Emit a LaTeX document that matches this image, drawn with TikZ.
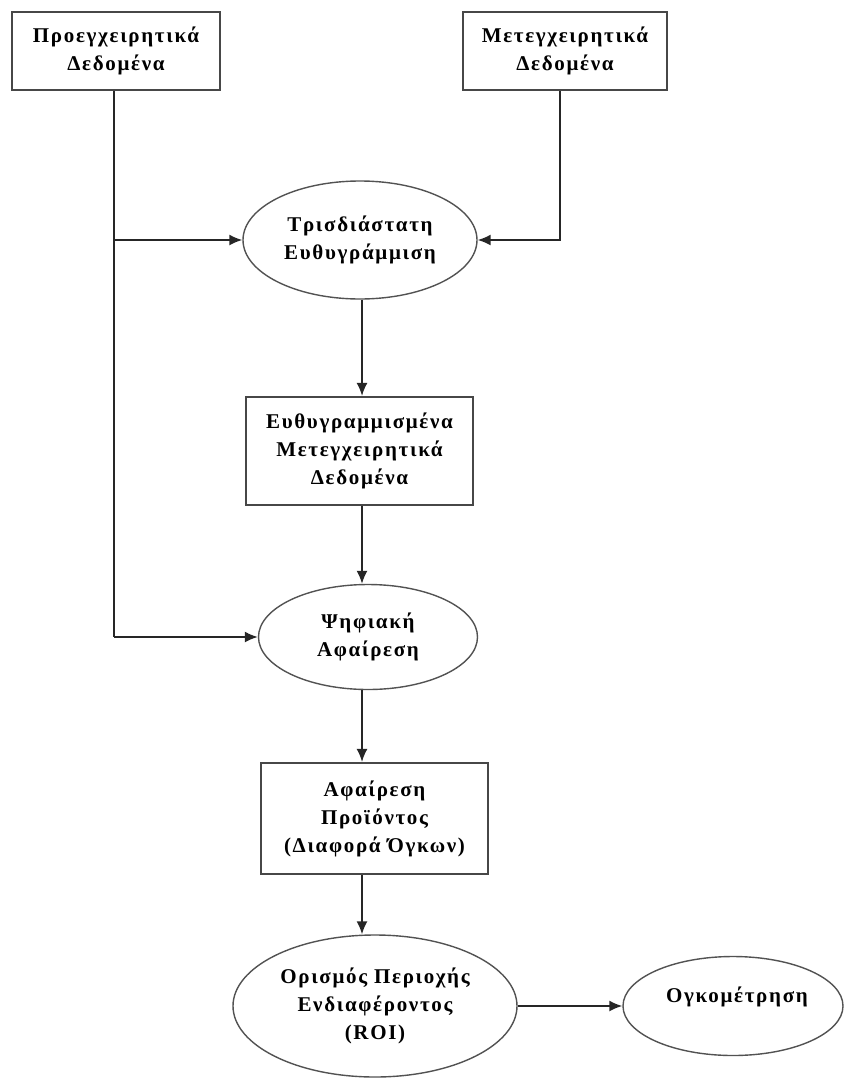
\documentclass[tikz,border=0pt]{standalone}
\usepackage{fontspec}
\setmainfont{Liberation Serif}
\newfontfamily\grfont[LetterSpace=8]{Liberation Serif}
\usetikzlibrary{arrows.meta,shapes.geometric}
\begin{document}
\begin{tikzpicture}[x=1pt,y=-1pt,
  lbl/.style={font=\grfont\bfseries\fontsize{21}{28}\selectfont, align=center, text=black},
  boxnode/.style={lbl, draw=black!72, line width=2.2pt, rectangle, inner sep=0pt},
  ellnode/.style={lbl, draw=black!68, line width=1.4pt, ellipse, inner sep=0pt},
  arr/.style={draw=black!85, line width=1.6pt, -{Latex[length=13pt,width=11pt]}},
  ln/.style={draw=black!85, line width=1.6pt}]
\useasboundingbox (0,0) rectangle (847,1079);
\node[boxnode, minimum width=208pt, minimum height=78pt] (b1) at (116,51) {Προεγχειρητικά\\Δεδομένα};
\node[boxnode, minimum width=204pt, minimum height=78pt] (b2) at (565,51) {Μετεγχειρητικά\\Δεδομένα};
\node[ellnode, minimum width=234pt, minimum height=118pt] (e1) at (360,240) {Τρισδιάστατη\\Ευθυγράμμιση};
\node[boxnode, minimum width=227pt, minimum height=108pt] (b3) at (359.5,451) {Ευθυγραμμισμένα\\Μετεγχειρητικά\\Δεδομένα};
\node[ellnode, minimum width=219pt, minimum height=105pt] (e2) at (368,637) {Ψηφιακή\\Αφαίρεση};
\node[boxnode, minimum width=227pt, minimum height=111pt] (b4) at (374.5,818.5) {Αφαίρεση\\Προϊόντος\\(Διαφορά Όγκων)};
\node[ellnode, minimum width=284pt, minimum height=142pt] (roi) at (375,1006) {Ορισμός Περιοχής\\Ενδιαφέροντος\\(ROI)};
\node[ellnode, minimum width=220pt, minimum height=99pt] (vol) at (733,1006) {};
\node[lbl] (voltxt) at (737,997) {Ογκομέτρηση};
\coordinate (ax) at (362,0);
\coordinate (lx) at (114,0);
\coordinate (rx) at (560,0);
% left feed
\draw[ln] (b1.south -| lx) -- (lx |- e2.west);
\draw[arr] (lx |- e2.west) -- (e2.west);
\draw[arr] (lx |- e1.west) -- (e1.west);
% right feed
\draw[arr] (b2.south -| rx) |- (e1.east);
% main chain
\draw[arr] (e1.south -| ax) -- (b3.north -| ax);
\draw[arr] (b3.south -| ax) -- (e2.north -| ax);
\draw[arr] (e2.south -| ax) -- (b4.north -| ax);
\draw[arr] (b4.south -| ax) -- (roi.north -| ax);
\draw[arr] (roi.east) -- (vol.west);
\end{tikzpicture}
\end{document}
